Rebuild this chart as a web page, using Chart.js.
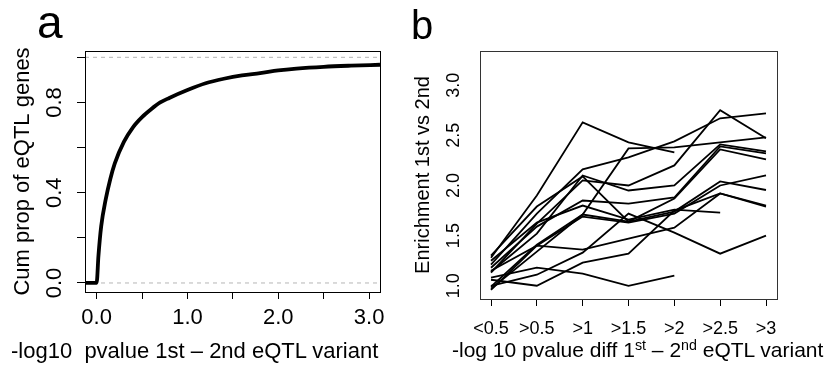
<!DOCTYPE html>
<html lang="en">
<head>
<meta charset="UTF-8"/>
<title>eQTL 1st vs 2nd variant</title>
<script src="https://cdn.jsdelivr.net/npm/chart.js"></script>
<style>
  body { margin: 0; background: #fff; font-family: "Liberation Sans", Arial, Helvetica, sans-serif; }
  #wrap { position: relative; width: 834px; height: 371px; overflow: hidden; }
  canvas { position: absolute; top: 0; }
  #cA { left: 0; }
  #cB { left: 400px; }
  .lbl { position: absolute; white-space: pre; color: #000; line-height: 1; }
  .panel { font-size: 46px; }
  sup { font-size: 0.68em; vertical-align: 0.48em; line-height: 0; }
</style>
</head>
<body>
<div id="wrap">
  <canvas id="cA" width="417" height="371"></canvas>
  <canvas id="cB" width="434" height="371"></canvas>
  <div class="lbl panel" style="left:37px;top:-1px;">a</div>
  <div class="lbl panel" style="left:411px;top:5px;font-size:40px;">b</div>
  <div class="lbl" style="left:11px;top:340px;font-size:22px;">-log10  pvalue 1st – 2nd eQTL variant</div>
  <div class="lbl" style="left:452px;top:339px;font-size:21px;">-log 10 pvalue diff 1<sup>st</sup> – 2<sup>nd</sup> eQTL variant</div>
</div>
<script>
const FONT = '"Liberation Sans", Arial, Helvetica, sans-serif';

// panel a: cumulative proportion of eQTL genes
const cumX = [-0.128, 0, 0.02, 0.05, 0.1, 0.15, 0.2, 0.3, 0.4, 0.5, 0.6, 0.7, 0.8, 1.0, 1.2, 1.4, 1.6, 1.8, 2.0, 2.2, 2.5, 2.8, 3.12];
const cumY = [0, 0, 0.12, 0.25, 0.37, 0.46, 0.53, 0.625, 0.69, 0.735, 0.77, 0.80, 0.82, 0.855, 0.885, 0.905, 0.92, 0.93, 0.942, 0.95, 0.958, 0.963, 0.967];
const refLinesA = [0, 1];
const xTicksA = [0, 0.5, 1, 1.5, 2, 2.5, 3];
const xLabelsA = [0, 1, 2, 3];
const yTicksA = [0, 0.2, 0.4, 0.6, 0.8, 1.0];
const yLabelsA = [0, 0.4, 0.8];
const xRangeA = [-0.128, 3.12];
const yRangeA = [-0.04, 1.028];

// panel b: enrichment 1st vs 2nd per p-value difference bin
const binLabels = ['<0.5', '>0.5', '>1', '>1.5', '>2', '>2.5', '>3'];
const s01 = [1.28, 1.90, 2.63, 2.43, 2.33, null, null];
const s02 = [1.21, 1.72, 2.16, 2.28, 2.44, 2.67, 2.72];
const s03 = [1.13, 1.62, 2.05, 2.00, 2.20, 2.75, 2.47];
const s04 = [0.97, 1.34, 1.71, 2.37, 2.38, 2.43, 2.48];
const s05 = [1.18, 1.59, 1.85, 1.82, 1.88, 2.39, 2.32];
const s06 = [1.30, 1.79, 2.09, 1.64, 1.87, 2.36, 2.26];
const s07 = [1.14, 1.52, 2.10, 1.95, 2.00, 2.41, 2.34];
const s08 = [0.99, 1.41, 1.71, 1.64, 1.74, 2.04, 1.955];
const s09 = [0.96, 1.40, 1.69, 1.63, 1.72, 2.00, 2.10];
const s10 = [1.25, 1.63, 1.80, 1.66, 1.76, 1.73, null];
const s11 = [1.15, 1.40, 1.36, 1.47, 1.58, 1.92, 1.79];
const s12 = [1.06, 1.00, 1.23, 1.32, 1.75, 1.92, 1.80];
const s13 = [1.00, 1.11, 1.33, 1.72, 1.53, 1.32, 1.50];
const s14 = [1.08, 1.18, 1.12, 1.00, 1.10, null, null];
const seriesB = [s01, s02, s03, s04, s05, s06, s07, s08, s09, s10, s11, s12, s13, s14];
const yLabelsB = [1.0, 1.5, 2.0, 2.5, 3.0];
const xRangeB = [-0.24, 6.24];
const yRangeB = [0.868, 3.341];

// box round the plot + R-style rotated y tick labels
function rPlot(yLabels, xCenter, size, boxColor) {
  return {
    id: 'rPlot',
    afterDraw(chart) {
      const {ctx, chartArea: a, scales} = chart;
      ctx.save();
      ctx.strokeStyle = boxColor;
      ctx.lineWidth = 1;
      ctx.strokeRect(Math.round(a.left) + 0.5, Math.round(a.top) + 0.5, Math.round(a.right - a.left), Math.round(a.bottom - a.top));
      ctx.fillStyle = '#000';
      ctx.font = size + 'px ' + FONT;
      ctx.textAlign = 'center';
      ctx.textBaseline = 'middle';
      yLabels.forEach(v => {
        ctx.save();
        ctx.translate(xCenter, scales.y.getPixelForValue(v));
        ctx.rotate(-Math.PI / 2);
        ctx.fillText(v.toFixed(1), 0, 0);
        ctx.restore();
      });
      ctx.restore();
    }
  };
}

const common = { responsive: false, animation: false, devicePixelRatio: 1, plugins: { legend: { display: false }, tooltip: { enabled: false } } };

new Chart(document.getElementById('cA'), {
  type: 'line',
  data: {
    datasets: [
      { data: cumX.map((x, i) => ({ x, y: cumY[i] })), borderColor: '#000', borderWidth: 3.8, pointRadius: 0, cubicInterpolationMode: 'monotone' },
      ...refLinesA.map(h => ({ data: [{ x: xRangeA[0], y: h }, { x: xRangeA[1], y: h }], borderColor: '#b5b5b5', borderWidth: 1, borderDash: [4, 4], pointRadius: 0 }))
    ]
  },
  options: {
    ...common,
    layout: { padding: { left: 0, top: 51, right: 37, bottom: 0 } },
    scales: {
      x: {
        type: 'linear', min: xRangeA[0], max: xRangeA[1],
        afterFit: s => { s.height = 79; },
        afterBuildTicks: s => { s.ticks = xTicksA.map(v => ({ value: v })); },
        grid: { drawOnChartArea: false, drawTicks: true, tickLength: 7, color: '#000' },
        border: { display: false },
        ticks: { autoSkip: false, maxRotation: 0, padding: 6, color: '#000', font: { size: 22, family: FONT },
                 callback: v => xLabelsA.includes(v) ? v.toFixed(1) : '' }
      },
      y: {
        type: 'linear', min: yRangeA[0], max: yRangeA[1],
        afterFit: s => { s.width = 85; },
        afterBuildTicks: s => { s.ticks = yTicksA.map(v => ({ value: v })); },
        grid: { drawOnChartArea: false, drawTicks: true, tickLength: 8, color: '#000' },
        border: { display: false },
        ticks: { display: false },
        title: { display: true, text: 'Cum prop of eQTL genes', color: '#000', font: { size: 22, family: FONT }, padding: { top: 10 } }
      }
    }
  },
  plugins: [rPlot(yLabelsA, 55, 22, '#000')]
});

new Chart(document.getElementById('cB'), {
  type: 'line',
  data: {
    datasets: seriesB.map(s => ({
      data: s.map((y, i) => ({ x: i, y })), borderColor: '#000', borderWidth: 1.8, pointRadius: 0, spanGaps: false
    }))
  },
  options: {
    ...common,
    layout: { padding: { left: 0, top: 51, right: 57, bottom: 0 } },
    scales: {
      x: {
        type: 'linear', min: xRangeB[0], max: xRangeB[1],
        afterFit: s => { s.height = 72; },
        afterBuildTicks: s => { s.ticks = binLabels.map((l, i) => ({ value: i })); },
        grid: { drawOnChartArea: false, drawTicks: true, tickLength: 7, color: '#000' },
        border: { display: false },
        ticks: { autoSkip: false, maxRotation: 0, padding: 12, color: '#000', font: { size: 18, family: FONT },
                 callback: v => binLabels[v] }
      },
      y: {
        type: 'linear', min: yRangeB[0], max: yRangeB[1],
        afterFit: s => { s.width = 80; },
        grid: { display: false },
        border: { display: false },
        ticks: { display: false },
        title: { display: true, text: 'Enrichment 1st vs 2nd', color: '#000', font: { size: 20, family: FONT }, padding: { top: 11 } }
      }
    }
  },
  plugins: [rPlot(yLabelsB, 54, 18, '#333')]
});
</script>
</body>
</html>
